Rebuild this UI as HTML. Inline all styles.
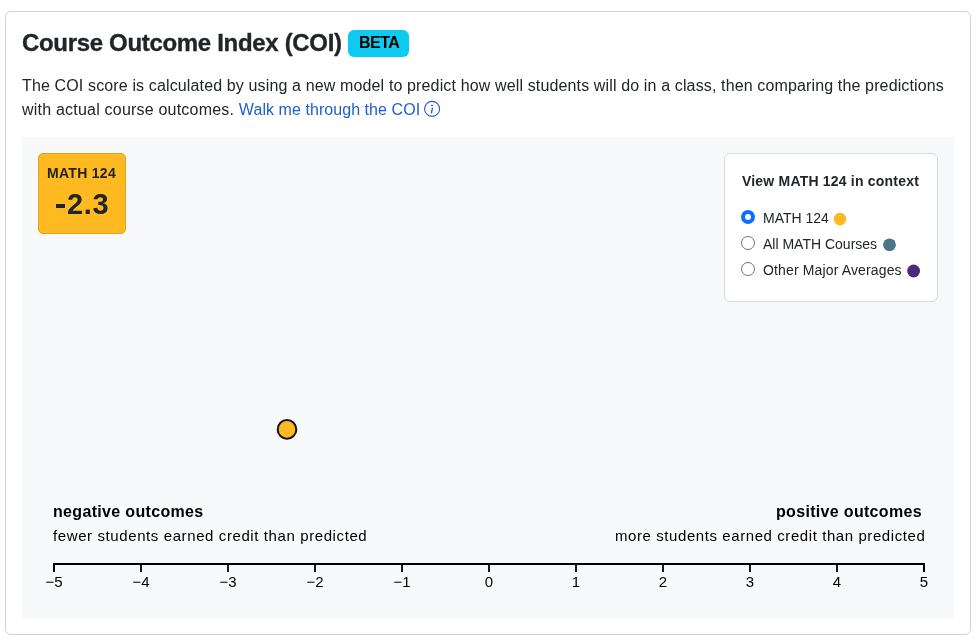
<!DOCTYPE html>
<html>
<head>
<meta charset="utf-8">
<style>
html,body{margin:0;padding:0;background:#fff;width:978px;height:640px;overflow:hidden;}
body{font-family:"Liberation Sans",sans-serif;color:#212529;position:relative;}
.a{position:absolute;white-space:nowrap;line-height:1;will-change:transform;}
.card{position:absolute;left:5px;top:11px;width:964px;height:622px;border:1px solid #d3d3d3;border-radius:6px;box-sizing:content-box;}
.chart{position:absolute;left:22px;top:137px;width:932px;height:481px;background:#f8f9fa;}
.badge{position:absolute;left:38px;top:153px;width:86px;height:79px;background:#ffb921;border:1px solid #e0a21a;border-radius:5px;}
.legend{position:absolute;left:724px;top:153px;width:212px;height:147px;background:#fff;border:1px solid #d6d8da;border-radius:6px;}
.beta{position:absolute;left:348px;top:30px;width:61px;height:27px;background:#0dcaf0;border-radius:6px;}
</style>
</head>
<body>
<div class="card"></div>
<div class="a" id="title" style="left:22px;top:31px;font-size:24px;font-weight:bold;letter-spacing:-0.32px;-webkit-text-stroke:0.35px #212529;">Course Outcome Index (COI)</div>
<div class="beta"></div>
<div class="a" id="beta" style="left:359px;top:35px;font-size:16px;font-weight:bold;color:#000;letter-spacing:-0.55px;">BETA</div>

<div class="a" id="p1" style="left:22px;top:78px;font-size:16px;letter-spacing:0.137px;">The COI score is calculated by using a new model to predict how well students will do in a class, then comparing the predictions</div>
<div class="a" id="p2" style="left:22px;top:102px;font-size:16px;letter-spacing:0.21px;">with actual course outcomes. <span style="color:#1f5ecc;letter-spacing:0.06px">Walk me through the COI</span></div>
<svg class="a" style="left:423px;top:100px" width="18" height="18" viewBox="0 0 18 18"><circle cx="9.1" cy="8.9" r="7.5" fill="none" stroke="#1f5ecc" stroke-width="1.1"/><rect x="8.0" y="4.8" width="2.2" height="1.3" rx="0.6" fill="#1f5ecc"/><path d="M9.4 8.1 L8.5 12.9" stroke="#1f5ecc" stroke-width="1.3" stroke-linecap="round"/></svg>

<div class="chart"></div>
<div class="badge"></div>
<div class="a" id="bm" style="left:47px;top:166px;font-size:14px;font-weight:bold;letter-spacing:0.3px;">MATH 124</div>
<div class="a" style="left:56px;top:204px;width:9px;height:3.6px;background:#212529;"></div>
<div class="a" id="bv" style="left:66.5px;top:190px;font-size:29px;font-weight:bold;letter-spacing:0.6px;">2.3</div>

<div class="legend"></div>
<div class="a" id="lt" style="left:742px;top:174px;font-size:14px;font-weight:bold;letter-spacing:0.2px;">View MATH 124 in context</div>
<svg class="a" style="left:740px;top:209px" width="16" height="16"><circle cx="8" cy="8" r="5" fill="#fff" stroke="#0d6efd" stroke-width="4"/></svg>
<svg class="a" style="left:740px;top:235px" width="16" height="16"><circle cx="8" cy="8" r="6.5" fill="#fff" stroke="#6b7280" stroke-width="1"/></svg>
<svg class="a" style="left:740px;top:261px" width="16" height="16"><circle cx="8" cy="8" r="6.5" fill="#fff" stroke="#6b7280" stroke-width="1"/></svg>
<div class="a" id="l1" style="left:763px;top:211px;font-size:14px;">MATH 124</div>
<div class="a" id="l2" style="left:763px;top:237px;font-size:14px;">All MATH Courses</div>
<div class="a" id="l3" style="left:763px;top:263px;font-size:14px;letter-spacing:0.14px;">Other Major Averages</div>
<svg class="a" style="left:833px;top:212px" width="14" height="14"><circle cx="7" cy="7.1" r="6.3" fill="#ffb921"/></svg>
<svg class="a" style="left:882px;top:238px" width="15" height="14"><circle cx="7.5" cy="6.8" r="6.4" fill="#4b768a"/></svg>
<svg class="a" style="left:906px;top:264px" width="15" height="14"><circle cx="7.6" cy="7" r="6.4" fill="#4a2a7c"/></svg>

<svg class="a" style="left:275px;top:417px" width="24" height="24"><circle cx="12" cy="12.4" r="9.3" fill="#ffb921" stroke="#151515" stroke-width="2"/></svg>

<div class="a" id="neg" style="left:53px;top:504px;font-size:16px;font-weight:bold;color:#000;letter-spacing:0.33px;">negative outcomes</div>
<div class="a" id="negs" style="left:53px;top:528px;font-size:15px;color:#000;letter-spacing:0.6px;">fewer students earned credit than predicted</div>
<div class="a" id="pos" style="right:56px;top:504px;font-size:16px;font-weight:bold;color:#000;letter-spacing:0.32px;">positive outcomes</div>
<div class="a" id="poss" style="right:53px;top:528px;font-size:15px;color:#000;letter-spacing:0.58px;">more students earned credit than predicted</div>

<svg class="a" style="left:0;top:550px" width="978" height="50">
<g stroke="#000" stroke-width="1.8" fill="none"><path d="M54 22 V14 H924 V22"/><path d="M54 14 V22"/><path d="M141 14 V22"/><path d="M228 14 V22"/><path d="M315 14 V22"/><path d="M402 14 V22"/><path d="M489 14 V22"/><path d="M576 14 V22"/><path d="M663 14 V22"/><path d="M750 14 V22"/><path d="M837 14 V22"/><path d="M924 14 V22"/></g>
<g font-family="Liberation Sans" font-size="15" fill="#000" text-anchor="middle"><text x="54" y="37">−5</text><text x="141" y="37">−4</text><text x="228" y="37">−3</text><text x="315" y="37">−2</text><text x="402" y="37">−1</text><text x="489" y="37">0</text><text x="576" y="37">1</text><text x="663" y="37">2</text><text x="750" y="37">3</text><text x="837" y="37">4</text><text x="924" y="37">5</text></g>
</svg>
</body>
</html>
